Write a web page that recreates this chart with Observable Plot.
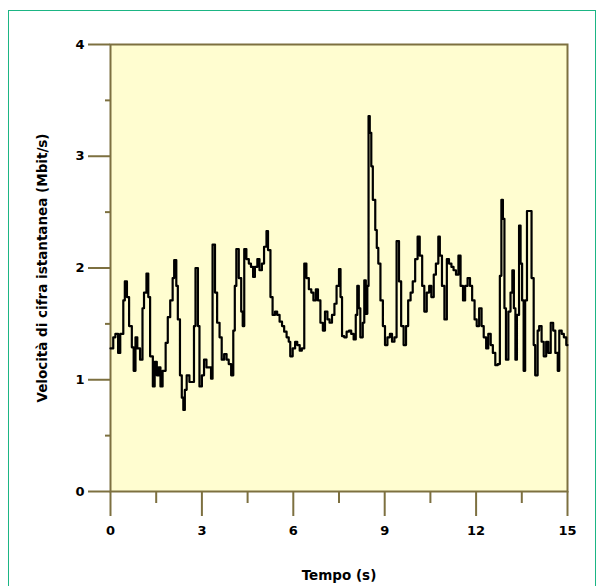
<!DOCTYPE html>
<html>
<head>
<meta charset="utf-8">
<script src="https://cdn.jsdelivr.net/npm/d3@7"></script>
<script src="https://cdn.jsdelivr.net/npm/@observablehq/plot@0.6"></script>
<style>
  html, body { margin: 0; padding: 0; background: #ffffff; }
  #wrap { position: relative; width: 605px; height: 586px; overflow: hidden; }
  #border { position: absolute; left: 8px; top: 10px; width: 588px; height: 600px; border: 1.5px solid #1bb584; box-sizing: border-box; }
  #chart { position: absolute; left: 0; top: 0; }
</style>
</head>
<body>
<div id="wrap"><div id="border"></div><div id="chart"></div></div>
<script>
const xLabel = "Tempo (s)";
const yLabel = "Velocità di cifra istantanea (Mbit/s)";
const xTicks = [0, 3, 6, 9, 12, 15];
const xMinorTicks = [1.5, 4.5, 7.5, 10.5, 13.5];
const yTicks = [0, 1, 2, 3, 4];
const yMinorTicks = [0.5, 1.5, 2.5, 3.5];

const tempo = [0.00,0.09,0.16,0.25,0.32,0.42,0.47,0.54,0.61,0.70,0.76,0.82,0.88,0.97,1.05,1.10,1.18,1.24,1.30,1.39,
1.45,1.52,1.58,1.64,1.71,1.81,1.88,1.96,2.04,2.09,2.16,2.21,2.28,2.34,2.39,2.44,2.50,2.59,2.68,2.74,
2.79,2.87,2.92,3.00,3.07,3.15,3.22,3.30,3.35,3.43,3.50,3.58,3.65,3.73,3.81,3.88,3.96,4.03,4.08,4.13,
4.21,4.29,4.34,4.39,4.46,4.54,4.61,4.68,4.74,4.82,4.89,4.97,5.04,5.12,5.17,5.25,5.32,5.40,5.47,5.55,
5.63,5.70,5.78,5.85,5.90,5.98,6.06,6.13,6.21,6.28,6.36,6.43,6.51,6.59,6.66,6.74,6.81,6.89,6.97,7.04,
7.12,7.19,7.27,7.35,7.42,7.50,7.55,7.60,7.67,7.75,7.83,7.90,7.98,8.05,8.10,8.15,8.20,8.28,8.33,8.38,
8.43,8.47,8.51,8.56,8.61,8.69,8.74,8.79,8.86,8.94,9.01,9.09,9.17,9.24,9.32,9.39,9.47,9.54,9.62,9.70,
9.77,9.85,9.92,10.00,10.08,10.15,10.23,10.30,10.38,10.46,10.53,10.61,10.68,10.76,10.81,10.88,10.96,11.04,11.11,11.19,
11.26,11.34,11.42,11.49,11.57,11.64,11.72,11.80,11.87,11.95,12.02,12.10,12.18,12.25,12.33,12.40,12.48,12.55,12.63,12.71,
12.78,12.83,12.88,12.93,12.98,13.06,13.13,13.19,13.24,13.29,13.34,13.41,13.46,13.51,13.56,13.61,13.67,13.74,13.82,13.89,
13.94,14.02,14.07,14.15,14.22,14.30,14.37,14.45,14.53,14.60,14.68,14.73,14.81,14.88,14.96,15.00];

const velocita = [1.28,1.38,1.41,1.24,1.41,1.71,1.88,1.74,1.48,1.29,1.08,1.38,1.28,1.18,1.64,1.78,1.95,1.74,1.21,0.94,
1.16,1.04,1.11,0.94,1.08,1.33,1.56,1.71,1.91,2.07,1.84,1.54,1.04,0.84,0.73,0.91,1.04,0.98,0.98,1.48,
2.00,1.48,0.94,1.04,1.18,1.11,1.11,1.01,2.21,1.78,1.51,1.38,1.18,1.23,1.18,1.14,1.04,1.44,1.84,2.17,
1.91,1.61,1.48,2.17,2.08,2.04,2.01,1.92,2.01,2.08,1.98,2.04,2.19,2.33,2.16,1.74,1.58,1.61,1.58,1.52,
1.48,1.43,1.38,1.34,1.21,1.28,1.34,1.31,1.26,1.28,2.04,1.91,1.81,1.78,1.71,1.81,1.71,1.51,1.44,1.61,
1.54,1.51,1.58,1.68,1.84,1.99,1.74,1.39,1.38,1.43,1.44,1.41,1.36,1.58,1.84,1.64,1.38,1.51,1.89,1.59,
1.84,3.36,3.21,2.91,2.61,2.34,2.18,2.04,1.71,1.48,1.31,1.38,1.41,1.34,1.38,2.24,1.88,1.48,1.31,1.48,
1.71,1.78,1.88,2.08,2.28,2.11,1.84,1.61,1.78,1.84,1.74,1.94,2.04,2.28,2.11,1.84,1.54,2.08,2.04,2.01,
1.98,1.94,2.11,1.84,1.71,1.84,1.91,1.84,1.71,1.54,1.48,1.64,1.48,1.38,1.28,1.41,1.31,1.24,1.13,1.14,
1.93,2.61,2.44,1.64,1.18,1.61,1.78,1.98,1.64,1.18,1.58,2.38,2.04,1.71,1.08,1.71,2.51,2.51,1.91,1.31,
1.04,1.44,1.48,1.34,1.21,1.34,1.24,1.51,1.44,1.24,1.08,1.44,1.41,1.38,1.31,1.31];

const data = tempo.map((t, i) => ({t, v: velocita[i]}));

const olive = "#7d7040";
const chart = Plot.plot({
  width: 605,
  height: 586,
  marginLeft: 110,
  marginRight: 38,
  marginTop: 44,
  marginBottom: 95,
  style: {fontFamily: "DejaVu Sans", fontSize: "13px", fontWeight: "bold", background: "transparent", color: "black"},
  x: {domain: [0, 15]},
  y: {domain: [0, 4]},
  marks: [
    Plot.frame({fill: "#fffdd0", stroke: olive, strokeWidth: 2}),
    Plot.axisX(xTicks, {tickSize: 25, tickPadding: 9, stroke: olive, strokeWidth: 2, fill: "black", tickFormat: d => String(d), label: null}),
    Plot.axisX(xMinorTicks, {tickSize: 12, stroke: olive, strokeWidth: 2, tickFormat: () => "", label: null}),
    Plot.axisY(yTicks, {tickSize: 22, tickPadding: 4, stroke: olive, strokeWidth: 2, fill: "black", tickFormat: d => String(d), label: null}),
    Plot.axisY(yMinorTicks, {tickSize: 5, stroke: olive, strokeWidth: 2, tickFormat: () => "", label: null}),
    Plot.line(data, {x: "t", y: "v", curve: "step-after", stroke: "black", strokeWidth: 2.2}),
    Plot.text([xLabel], {frameAnchor: "bottom", dy: 84, lineAnchor: "middle", textAnchor: "middle", fontSize: 13.5, fontWeight: "bold", fill: "black"}),
    Plot.text([yLabel], {frameAnchor: "left", dx: -68, rotate: -90, lineAnchor: "middle", textAnchor: "middle", fontSize: 13.5, fontWeight: "bold", fill: "black"})
  ]
});
document.getElementById("chart").appendChild(chart);
</script>
</body>
</html>
